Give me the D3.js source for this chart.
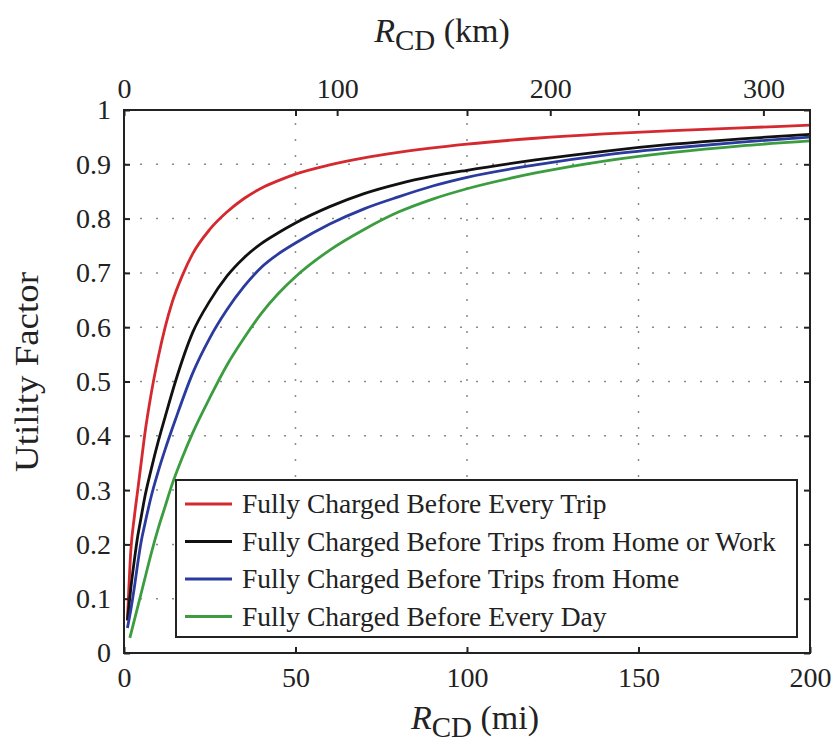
<!DOCTYPE html>
<html>
<head>
<meta charset="utf-8">
<script src="https://cdn.jsdelivr.net/npm/d3@7"></script>
<style>
  body { margin: 0; background: #fff; }
  text { font-family: "Liberation Serif", "DejaVu Serif", serif; fill: #222; }
</style>
</head>
<body>
<script>
// utility factor vs charge-depleting range
const miTicks = [0, 50, 100, 150, 200]
const kmTicks = [0, 100, 200, 300]
const ufTicks = [0, 0.1, 0.2, 0.3, 0.4, 0.5, 0.6, 0.7, 0.8, 0.9, 1]

const seriesNames = [
  'Fully Charged Before Every Trip',
  'Fully Charged Before Trips from Home or Work',
  'Fully Charged Before Trips from Home',
  'Fully Charged Before Every Day'
]
const seriesColors = ['#d42a2f', '#111111', '#2b3a9e', '#3b9d3f']

const everyTripMi = [1, 2, 3, 4, 5, 6, 8, 10, 12, 14, 17, 20, 25, 30, 35, 40, 45, 50, 60, 70, 80, 100, 120, 140, 160, 180, 200]
const everyTripUF = [0.06, 0.19, 0.25, 0.30, 0.35, 0.40, 0.48, 0.545, 0.60, 0.645, 0.695, 0.735, 0.78, 0.812, 0.837, 0.856, 0.870, 0.882, 0.899, 0.912, 0.922, 0.937, 0.948, 0.956, 0.962, 0.967, 0.972]

const homeWorkMi = [1, 2, 3, 4, 5, 6, 8, 10, 12, 15, 20, 25, 30, 35, 40, 45, 50, 60, 70, 80, 90, 100, 120, 140, 160, 180, 200]
const homeWorkUF = [0.06, 0.12, 0.17, 0.215, 0.25, 0.285, 0.34, 0.39, 0.435, 0.50, 0.59, 0.648, 0.694, 0.728, 0.754, 0.774, 0.792, 0.822, 0.846, 0.864, 0.878, 0.889, 0.908, 0.924, 0.937, 0.947, 0.955]

const homeMi = [1, 2, 3, 4, 5, 6, 8, 10, 12, 15, 20, 25, 30, 35, 40, 45, 50, 60, 70, 80, 90, 100, 120, 140, 160, 180, 200]
const homeUF = [0.046, 0.08, 0.12, 0.165, 0.205, 0.235, 0.29, 0.335, 0.375, 0.43, 0.515, 0.58, 0.632, 0.675, 0.71, 0.735, 0.755, 0.79, 0.818, 0.84, 0.86, 0.876, 0.899, 0.917, 0.93, 0.941, 0.95]

const everyDayMi = [1.7, 3, 4, 5, 6, 8, 10, 12, 14, 17, 20, 25, 30, 35, 40, 45, 50, 60, 70, 80, 90, 100, 120, 140, 160, 180, 200]
const everyDayUF = [0.028, 0.06, 0.085, 0.11, 0.135, 0.185, 0.23, 0.27, 0.31, 0.36, 0.405, 0.47, 0.53, 0.58, 0.625, 0.662, 0.693, 0.742, 0.78, 0.812, 0.836, 0.855, 0.884, 0.906, 0.922, 0.934, 0.943]

const series = [
  [everyTripMi, everyTripUF],
  [homeWorkMi, homeWorkUF],
  [homeMi, homeUF],
  [everyDayMi, everyDayUF]
].map(([xs, ys], i) => ({
  name: seriesNames[i],
  color: seriesColors[i],
  points: xs.map((x, j) => [x, ys[j]])
}))

const W = 835, H = 744
const plotL = 124, plotR = 810, plotT = 110, plotB = 653

const x = d3.scaleLinear().domain([0, 200]).range([plotL, plotR])
const xKm = d3.scaleLinear().domain([0, 200 * 1.609344]).range([plotL, plotR])
const y = d3.scaleLinear().domain([0, 1]).range([plotB, plotT])

const svg = d3.select('body').append('svg')
  .attr('width', W)
  .attr('height', H)

// grid (dotted, from the mile axis only)
const grid = svg.append('g').attr('stroke', '#8a8a8a').attr('stroke-width', 1.5)
  .attr('stroke-dasharray', '2,14')
grid.selectAll('line.v')
  .data(miTicks.slice(1, -1))
  .enter().append('line')
  .attr('x1', d => x(d)).attr('x2', d => x(d))
  .attr('y1', plotB).attr('y2', plotT)
grid.selectAll('line.h')
  .data(ufTicks.slice(1, -1))
  .enter().append('line')
  .attr('x1', plotL).attr('x2', plotR)
  .attr('y1', d => y(d)).attr('y2', d => y(d))

// curves
const line = d3.line()
  .x(d => x(d[0]))
  .y(d => y(d[1]))
  .curve(d3.curveMonotoneX)

svg.append('g').selectAll('path')
  .data(series)
  .enter().append('path')
  .attr('d', d => line(d.points))
  .attr('fill', 'none')
  .attr('stroke', d => d.color)
  .attr('stroke-width', 2.8)

// axes: ticks point inward, box drawn separately
const tickStyle = g => {
  g.select('.domain').remove()
  g.selectAll('.tick line').attr('stroke', '#222').attr('stroke-width', 2)
  g.selectAll('.tick text').attr('fill', '#222')
    .style('font-family', '"Liberation Serif", serif')
    .style('font-size', '28px')
}

svg.append('g')
  .attr('transform', `translate(0,${plotB})`)
  .call(d3.axisBottom(x).tickValues(miTicks).tickSize(-6).tickPadding(14))
  .call(tickStyle)

svg.append('g')
  .attr('transform', `translate(0,${plotT})`)
  .call(d3.axisBottom(x).tickValues(miTicks.slice(1, -1)).tickSize(6).tickFormat(''))
  .call(tickStyle)

svg.append('g')
  .attr('transform', `translate(0,${plotT})`)
  .call(d3.axisTop(xKm).tickValues(kmTicks).tickSize(-6).tickPadding(12))
  .call(tickStyle)

svg.append('g')
  .attr('transform', `translate(${plotL},0)`)
  .call(d3.axisLeft(y).tickValues(ufTicks).tickSize(-6).tickPadding(13).tickFormat(d3.format('')))
  .call(tickStyle)

svg.append('g')
  .attr('transform', `translate(${plotR},0)`)
  .call(d3.axisRight(y).tickValues(ufTicks).tickSize(-6).tickFormat(''))
  .call(tickStyle)

svg.append('rect')
  .attr('x', plotL).attr('y', plotT)
  .attr('width', plotR - plotL).attr('height', plotB - plotT)
  .attr('fill', 'none')
  .attr('stroke', '#222')
  .attr('stroke-width', 2)

// legend
const lg = svg.append('g')
lg.append('rect')
  .attr('x', 176).attr('y', 480)
  .attr('width', 621).attr('height', 157)
  .attr('fill', '#fff')
  .attr('stroke', '#222')
  .attr('stroke-width', 2)

const rows = lg.selectAll('g.row')
  .data(series)
  .enter().append('g')
  .attr('transform', (d, i) => `translate(0,${504 + i * 37.5})`)
rows.append('line')
  .attr('x1', 185).attr('x2', 232)
  .attr('stroke', d => d.color)
  .attr('stroke-width', 2.8)
rows.append('text')
  .attr('x', 242).attr('y', 9)
  .style('font-size', '27.5px')
  .text(d => d.name)

// axis titles
const title = (g, unit) => {
  const t = g.append('text').style('font-size', '34px').attr('text-anchor', 'middle')
  t.append('tspan').style('font-style', 'italic').text('R')
  t.append('tspan').attr('dy', 8).style('font-size', '29px').text('CD')
  t.append('tspan').attr('dy', -8).text(' (' + unit + ')')
  return t
}
title(svg.append('g').attr('transform', 'translate(442,42)'), 'km')
title(svg.append('g').attr('transform', 'translate(475,729)'), 'mi')

svg.append('text')
  .attr('transform', 'translate(38,372) rotate(-90)')
  .attr('text-anchor', 'middle')
  .attr('textLength', 200)
  .attr('lengthAdjust', 'spacingAndGlyphs')
  .style('font-size', '34px')
  .text('Utility Factor')
</script>
</body>
</html>
